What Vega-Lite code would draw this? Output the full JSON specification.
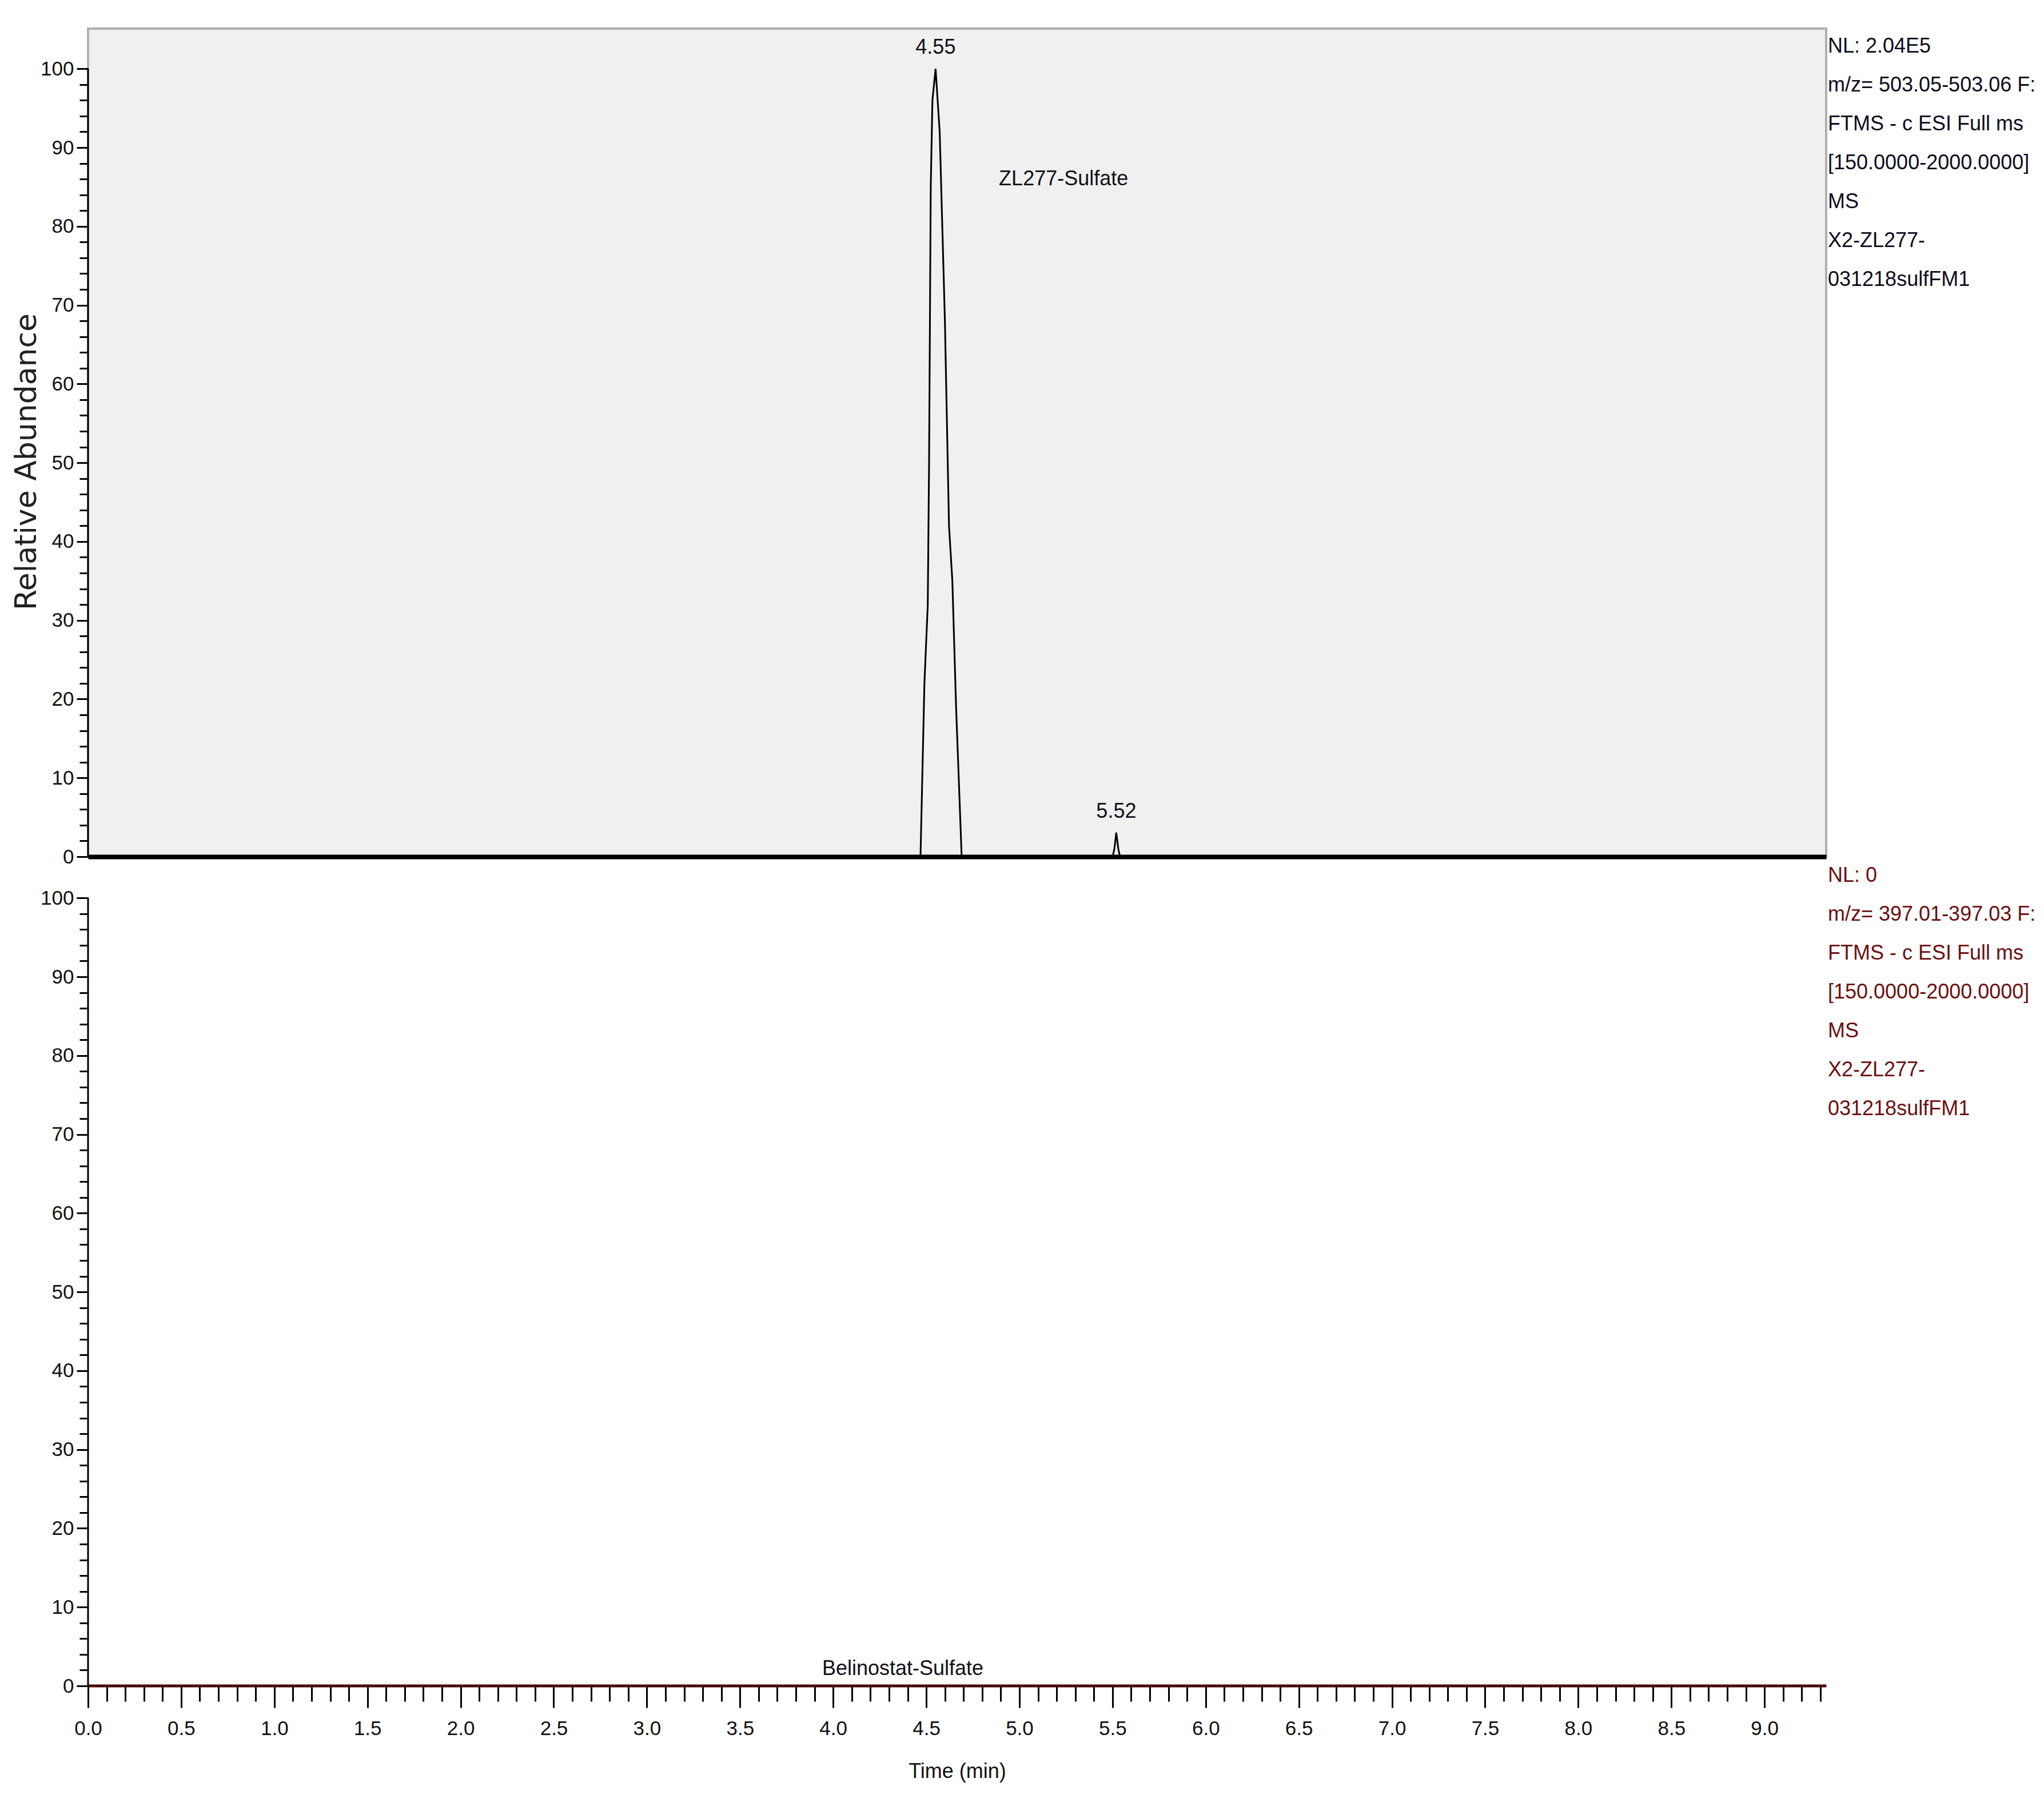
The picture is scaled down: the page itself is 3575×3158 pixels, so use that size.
{
  "$schema": "https://vega.github.io/schema/vega-lite/v6.json",
  "background": "white",
  "padding": {"left": 18, "top": 48, "right": 5, "bottom": 5},
  "bounds": "flush",
  "spacing": 2,
  "config": {
    "font": "Liberation Sans",
    "axis": {
      "labelFont": "Liberation Sans",
      "labelFontSize": 35,
      "labelColor": "#111111",
      "tickColor": "#000000",
      "tickWidth": 3,
      "domainColor": "#000000",
      "grid": false,
      "labelOverlap": false,
      "labelFlush": false,
      "labelBound": false,
      "titleFont": "Liberation Sans",
      "titleFontSize": 36,
      "titleFontWeight": "normal",
      "titleColor": "#111111"
    },
    "text": {"font": "Liberation Sans", "fontSize": 36}
  },
  "datasets": {
    "ticUpper": [
      {"time": 0, "abundance": 0},
      {"time": 4.469, "abundance": 0},
      {"time": 4.49, "abundance": 22},
      {"time": 4.508, "abundance": 32},
      {"time": 4.515, "abundance": 50},
      {"time": 4.524, "abundance": 85},
      {"time": 4.533, "abundance": 96},
      {"time": 4.55, "abundance": 100},
      {"time": 4.572, "abundance": 92},
      {"time": 4.6, "abundance": 68},
      {"time": 4.622, "abundance": 42},
      {"time": 4.64, "abundance": 35},
      {"time": 4.66, "abundance": 19},
      {"time": 4.69, "abundance": 0},
      {"time": 5.5, "abundance": 0},
      {"time": 5.51, "abundance": 1.0},
      {"time": 5.52, "abundance": 3.05},
      {"time": 5.531, "abundance": 1.0},
      {"time": 5.54, "abundance": 0},
      {"time": 9.331, "abundance": 0}
    ],
    "peaksUpper": [
      {"time": 4.55, "abundance": 100},
      {"time": 5.52, "abundance": 3.05}
    ],
    "ticLower": [
      {"time": 0, "abundance": 0},
      {"time": 4.5, "abundance": 0},
      {"time": 9.331, "abundance": 0}
    ],
    "yAxisLine": [
      {"time": 0, "lo": 0, "hi": 100}
    ]
  },
  "vconcat": [
    {
      "width": 3040,
      "height": 1448,
      "view": {"fill": "#f0f0f0", "stroke": "#b0b0b0", "strokeWidth": 4},
      "layer": [
        {
          "data": {"name": "ticUpper"},
          "mark": {"type": "line", "color": "#000000", "strokeWidth": 3},
          "encoding": {
            "x": {
              "field": "time", "type": "quantitative",
              "scale": {"domain": [0, 9.331], "nice": false, "zero": false},
              "axis": {"orient": "bottom", "domainWidth": 8, "ticks": false, "labels": false, "title": null}
            },
            "y": {
              "field": "abundance", "type": "quantitative",
              "scale": {"domain": [0, 105.1], "nice": false},
              "axis": {
                "orient": "left",
                "values": [0, 10, 20, 30, 40, 50, 60, 70, 80, 90, 100],
                "tickSize": 20, "labelPadding": 5, "domain": false,
                "title": "Relative Abundance",
                "titleFont": "DejaVu Sans", "titleFontSize": 52,
                "titleColor": "#222222", "titlePadding": -3, "titleY": 757
              }
            }
          }
        },
        {
          "data": {"name": "ticUpper"},
          "mark": {"type": "line", "opacity": 0},
          "encoding": {
            "x": {"field": "time", "type": "quantitative", "scale": {"domain": [0, 9.331], "nice": false, "zero": false}, "axis": null},
            "y": {
              "field": "abundance", "type": "quantitative",
              "scale": {"domain": [0, 105.1], "nice": false},
              "axis": {
                "orient": "left",
                "values": [0, 2, 4, 6, 8, 10, 12, 14, 16, 18, 20, 22, 24, 26, 28, 30, 32, 34, 36, 38, 40, 42, 44, 46, 48, 50, 52, 54, 56, 58, 60, 62, 64, 66, 68, 70, 72, 74, 76, 78, 80, 82, 84, 86, 88, 90, 92, 94, 96, 98, 100],
                "tickSize": 15, "labels": false, "domain": false, "title": null
              }
            }
          }
        },
        {
          "data": {"name": "yAxisLine"},
          "mark": {"type": "rule", "color": "#000000", "strokeWidth": 3},
          "encoding": {
            "x": {"field": "time", "type": "quantitative", "scale": {"domain": [0, 9.331], "nice": false, "zero": false}, "axis": null},
            "y": {"field": "lo", "type": "quantitative", "scale": {"domain": [0, 105.1], "nice": false}, "axis": null},
            "y2": {"field": "hi"}
          }
        },
        {
          "data": {"name": "peaksUpper"},
          "mark": {"type": "text", "align": "center", "baseline": "alphabetic", "dy": -26, "color": "#101018"},
          "encoding": {
            "x": {"field": "time", "type": "quantitative", "scale": {"domain": [0, 9.331], "nice": false, "zero": false}, "axis": null},
            "y": {"field": "abundance", "type": "quantitative", "scale": {"domain": [0, 105.1], "nice": false}, "axis": null},
            "text": {"field": "time", "type": "quantitative", "format": ".2f"}
          }
        },
        {
          "data": {"values": [{"time": 5.237, "abundance": 85.2, "label": "ZL277-Sulfate"}]},
          "mark": {"type": "text", "align": "center", "baseline": "alphabetic", "color": "#101018"},
          "encoding": {
            "x": {"field": "time", "type": "quantitative", "scale": {"domain": [0, 9.331], "nice": false, "zero": false}, "axis": null},
            "y": {"field": "abundance", "type": "quantitative", "scale": {"domain": [0, 105.1], "nice": false}, "axis": null},
            "text": {"field": "label"}
          }
        },
        {
          "data": {"values": [{"time": 9.331, "abundance": 105.1, "note": "NL: 2.04E5\nm/z= 503.05-503.06 F:\nFTMS - c ESI Full ms\n[150.0000-2000.0000]\nMS\nX2-ZL277-\n031218sulfFM1"}]},
          "mark": {"type": "text", "align": "left", "baseline": "top", "lineBreak": "\n", "lineHeight": 68, "dx": 3, "dy": 14, "color": "#0c0c1c"},
          "encoding": {
            "x": {"field": "time", "type": "quantitative", "scale": {"domain": [0, 9.331], "nice": false, "zero": false}, "axis": null},
            "y": {"field": "abundance", "type": "quantitative", "scale": {"domain": [0, 105.1], "nice": false}, "axis": null},
            "text": {"field": "note"}
          }
        }
      ],
      "resolve": {"axis": {"x": "independent", "y": "independent"}}
    },
    {
      "width": 3040,
      "height": 1448,
      "view": {"stroke": null},
      "layer": [
        {
          "data": {"name": "ticLower"},
          "mark": {"type": "line", "opacity": 0},
          "encoding": {
            "x": {
              "field": "time", "type": "quantitative",
              "scale": {"domain": [0, 9.331], "nice": false, "zero": false},
              "axis": {
                "orient": "bottom",
                "values": [0, 0.1, 0.2, 0.3, 0.4, 0.5, 0.6, 0.7, 0.8, 0.9, 1, 1.1, 1.2, 1.3, 1.4, 1.5, 1.6, 1.7, 1.8, 1.9, 2, 2.1, 2.2, 2.3, 2.4, 2.5, 2.6, 2.7, 2.8, 2.9, 3, 3.1, 3.2, 3.3, 3.4, 3.5, 3.6, 3.7, 3.8, 3.9, 4, 4.1, 4.2, 4.3, 4.4, 4.5, 4.6, 4.7, 4.8, 4.9, 5, 5.1, 5.2, 5.3, 5.4, 5.5, 5.6, 5.7, 5.8, 5.9, 6, 6.1, 6.2, 6.3, 6.4, 6.5, 6.6, 6.7, 6.8, 6.9, 7, 7.1, 7.2, 7.3, 7.4, 7.5, 7.6, 7.7, 7.8, 7.9, 8, 8.1, 8.2, 8.3, 8.4, 8.5, 8.6, 8.7, 8.8, 8.9, 9, 9.1, 9.2, 9.3],
                "tickSize": 27, "labels": false, "domain": false, "title": null
              }
            },
            "y": {
              "field": "abundance", "type": "quantitative",
              "scale": {"domain": [0, 105.1], "nice": false},
              "axis": {
                "orient": "left",
                "values": [0, 2, 4, 6, 8, 10, 12, 14, 16, 18, 20, 22, 24, 26, 28, 30, 32, 34, 36, 38, 40, 42, 44, 46, 48, 50, 52, 54, 56, 58, 60, 62, 64, 66, 68, 70, 72, 74, 76, 78, 80, 82, 84, 86, 88, 90, 92, 94, 96, 98, 100],
                "tickSize": 15, "labels": false, "domain": false, "title": null
              }
            }
          }
        },
        {
          "data": {"name": "ticLower"},
          "mark": {"type": "line", "color": "#4a0808", "strokeWidth": 5},
          "encoding": {
            "x": {
              "field": "time", "type": "quantitative",
              "scale": {"domain": [0, 9.331], "nice": false, "zero": false},
              "axis": {
                "orient": "bottom",
                "values": [0, 0.5, 1, 1.5, 2, 2.5, 3, 3.5, 4, 4.5, 5, 5.5, 6, 6.5, 7, 7.5, 8, 8.5, 9],
                "format": ".1f", "tickSize": 38, "labelPadding": 19,
                "domainWidth": 3, "title": "Time (min)", "titlePadding": 40
              }
            },
            "y": {
              "field": "abundance", "type": "quantitative",
              "scale": {"domain": [0, 105.1], "nice": false},
              "axis": {
                "orient": "left",
                "values": [0, 10, 20, 30, 40, 50, 60, 70, 80, 90, 100],
                "tickSize": 20, "labelPadding": 5, "domain": false, "title": null
              }
            }
          }
        },
        {
          "data": {"name": "yAxisLine"},
          "mark": {"type": "rule", "color": "#000000", "strokeWidth": 3},
          "encoding": {
            "x": {"field": "time", "type": "quantitative", "scale": {"domain": [0, 9.331], "nice": false, "zero": false}, "axis": null},
            "y": {"field": "lo", "type": "quantitative", "scale": {"domain": [0, 105.1], "nice": false}, "axis": null},
            "y2": {"field": "hi"}
          }
        },
        {
          "data": {"values": [{"time": 4.374, "abundance": 1.4, "label": "Belinostat-Sulfate"}]},
          "mark": {"type": "text", "align": "center", "baseline": "alphabetic", "color": "#101018"},
          "encoding": {
            "x": {"field": "time", "type": "quantitative", "scale": {"domain": [0, 9.331], "nice": false, "zero": false}, "axis": null},
            "y": {"field": "abundance", "type": "quantitative", "scale": {"domain": [0, 105.1], "nice": false}, "axis": null},
            "text": {"field": "label"}
          }
        },
        {
          "data": {"values": [{"time": 9.331, "abundance": 105.1, "note": "NL: 0\nm/z= 397.01-397.03 F:\nFTMS - c ESI Full ms\n[150.0000-2000.0000]\nMS\nX2-ZL277-\n031218sulfFM1"}]},
          "mark": {"type": "text", "align": "left", "baseline": "top", "lineBreak": "\n", "lineHeight": 68, "dx": 3, "dy": 14, "color": "#6b1010"},
          "encoding": {
            "x": {"field": "time", "type": "quantitative", "scale": {"domain": [0, 9.331], "nice": false, "zero": false}, "axis": null},
            "y": {"field": "abundance", "type": "quantitative", "scale": {"domain": [0, 105.1], "nice": false}, "axis": null},
            "text": {"field": "note"}
          }
        }
      ],
      "resolve": {"axis": {"x": "independent", "y": "independent"}}
    }
  ]
}
